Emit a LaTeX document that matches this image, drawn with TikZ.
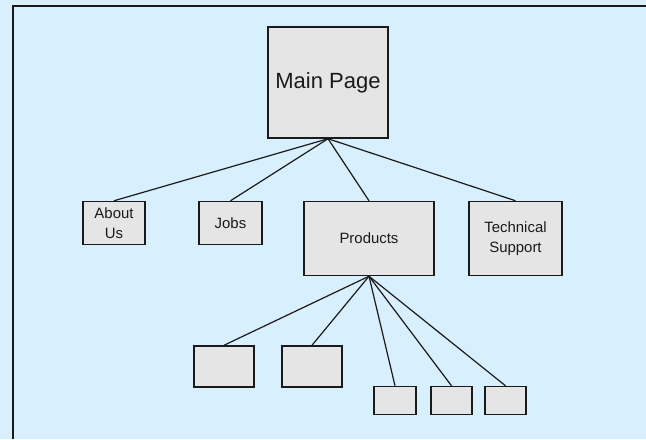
\documentclass[tikz,border=0pt]{standalone}
\usepackage{fontspec}
\setmainfont{Liberation Sans}
\definecolor{bgblue}{HTML}{D8EFFD}
\definecolor{boxgray}{HTML}{E5E5E5}
\definecolor{ink}{HTML}{1A1A1A}
\begin{document}
\begin{tikzpicture}[x=0.75pt,y=-0.75pt,
  page/.style={draw=ink,fill=boxgray,line width=1.1pt,inner sep=0pt,text=ink,
    align=center,font=\fontsize{11.2}{14.5}\selectfont},
  link/.style={draw=ink,line width=0.9pt}]
  % canvas
  \fill[bgblue] (0,0) rectangle (646,439);
  \useasboundingbox (0,0) rectangle (646,439);
  \draw[ink,line width=1.6pt] (13,439) -- (13,6) -- (646,6);

  % pages
  \node[page,minimum width=120*0.75pt,minimum height=111*0.75pt,
        font=\fontsize{16.5}{19}\selectfont] (main) at (328,82.5) {Main Page};
  \node[page,minimum width=62*0.75pt,minimum height=43*0.75pt] (about) at (114,223) {About\\Us};
  \node[page,minimum width=63*0.75pt,minimum height=43*0.75pt] (jobs) at (230.5,223) {Jobs};
  \node[page,minimum width=130*0.75pt,minimum height=74*0.75pt] (products) at (369,238.5) {Products};
  \node[page,minimum width=93*0.75pt,minimum height=74*0.75pt] (tech) at (515.5,238.5) {Technical\\Support};

  \node[page,minimum width=60*0.75pt,minimum height=41*0.75pt] (p1) at (224,366.5) {};
  \node[page,minimum width=60*0.75pt,minimum height=41*0.75pt] (p2) at (312,366.5) {};
  \node[page,minimum width=42*0.75pt,minimum height=28*0.75pt] (p3) at (395,400.5) {};
  \node[page,minimum width=41*0.75pt,minimum height=28*0.75pt] (p4) at (451.5,400.5) {};
  \node[page,minimum width=41*0.75pt,minimum height=28*0.75pt] (p5) at (505.5,400.5) {};

  % links
  \foreach \c in {about,jobs,products,tech}
    \draw[link] (main.south) -- (\c.north);
  \foreach \c in {p1,p2,p3,p4,p5}
    \draw[link] (products.south) -- (\c.north);
\end{tikzpicture}
\end{document}
